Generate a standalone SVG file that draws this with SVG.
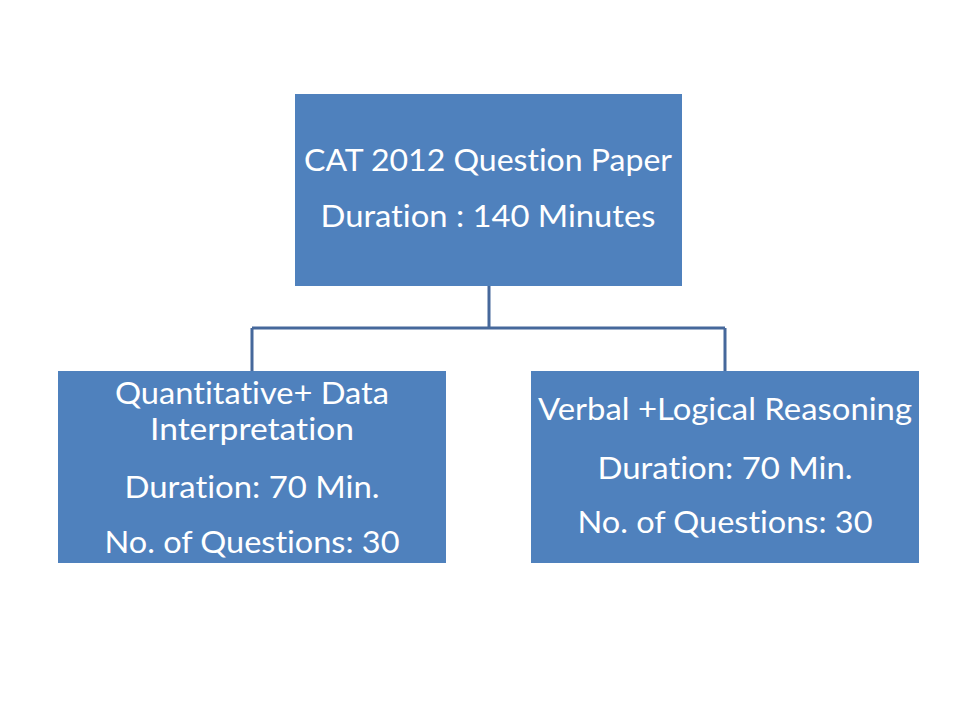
<svg xmlns="http://www.w3.org/2000/svg" width="960" height="720" viewBox="0 0 960 720">
<style>
.box{fill:#4F81BD;}
.t{font-family:Lato,"Open Sans","Liberation Sans",sans-serif;font-size:31px;fill:#FFFFFF;text-anchor:middle;font-variant-ligatures:none;font-feature-settings:"liga" 0,"clig" 0;}
.c{fill:none;stroke:#46689B;stroke-width:3;}
</style>
<rect width="960" height="720" fill="#FFFFFF"/>
<g id="connectors">
<path class="c" d="M489,286 V328 M252,328 H725 M252,328 V371 M725,328 V371"/>
</g>
<g id="node-top">
<rect class="box" x="295" y="94" width="387" height="192"/>
<text class="t" x="488" y="171" textLength="368" lengthAdjust="spacingAndGlyphs">CAT 2012 Question Paper</text>
<text class="t" x="488" y="227" textLength="335" lengthAdjust="spacingAndGlyphs">Duration : 140 Minutes</text>
</g>
<g id="node-left">
<rect class="box" x="58" y="371" width="388" height="192"/>
<text class="t" x="252" y="404" textLength="274" lengthAdjust="spacingAndGlyphs">Quantitative+ Data</text>
<text class="t" x="252" y="440" textLength="204" lengthAdjust="spacingAndGlyphs">Interpretation</text>
<text class="t" x="252" y="498" textLength="255" lengthAdjust="spacingAndGlyphs">Duration: 70 Min.</text>
<text class="t" x="252" y="553" textLength="295" lengthAdjust="spacingAndGlyphs">No. of Questions: 30</text>
</g>
<g id="node-right">
<rect class="box" x="531" y="371" width="388" height="192"/>
<text class="t" x="725" y="420" textLength="374" lengthAdjust="spacingAndGlyphs">Verbal +Logical Reasoning</text>
<text class="t" x="725" y="479" textLength="255" lengthAdjust="spacingAndGlyphs">Duration: 70 Min.</text>
<text class="t" x="725" y="533" textLength="295" lengthAdjust="spacingAndGlyphs">No. of Questions: 30</text>
</g>
</svg>
